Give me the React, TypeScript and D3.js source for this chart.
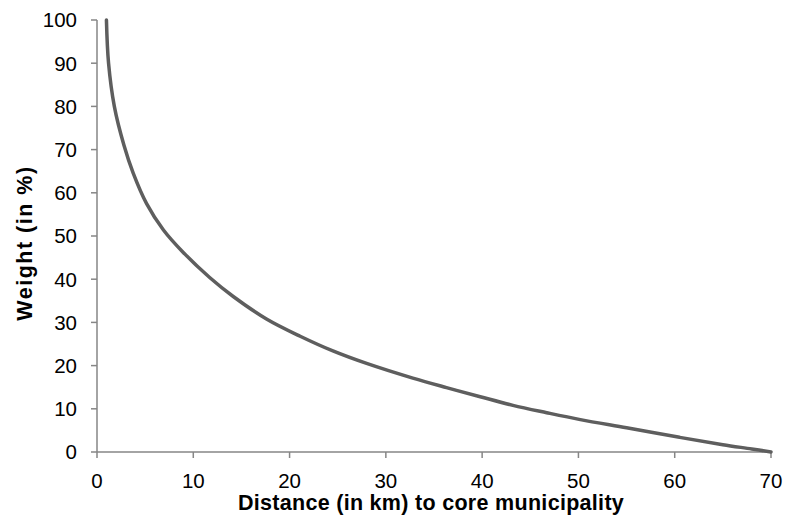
import React from "react";
import * as d3 from "d3";

const distance = [0.98, 1.2, 1.8, 2.8, 3.77, 5.15, 6.9, 8.96, 11.7, 14.15, 17.6, 21.1, 24.5, 28.0, 32.8, 36.3, 39.8, 43.2, 46.7, 50.2, 55.0, 60.5, 65.0, 68.0, 70.0];
const weight = [100, 90, 80, 71, 64.5, 57.5, 51.4, 46.2, 40.4, 36.0, 30.8, 26.8, 23.4, 20.5, 17.1, 14.9, 12.8, 10.8, 9.1, 7.5, 5.6, 3.4, 1.7, 0.7, 0];
const xTicks = [0, 10, 20, 30, 40, 50, 60, 70];
const yTicks = [0, 10, 20, 30, 40, 50, 60, 70, 80, 90, 100];

export default function App() {
  const W = 792, H = 526;
  const left = 97, right = 771, top = 20, bottom = 452;
  const x = d3.scaleLinear().domain([0, 70]).range([left, right]);
  const y = d3.scaleLinear().domain([0, 100]).range([bottom, top]);
  const pts: [number, number][] = distance.map((d, i) => [d, weight[i]]);
  const line = d3.line<[number, number]>().x(p => x(p[0])).y(p => y(p[1])).curve(d3.curveCatmullRom.alpha(0.5));
  const axisColor = "#868686";
  const font = "'Liberation Sans', Arial, sans-serif";
  return (
    <svg width={W} height={H} style={{ position: "absolute", left: 0, top: 0 }} fontFamily={font}>
      <rect width={W} height={H} fill="#fff" />
      <line x1={left} x2={left} y1={top} y2={bottom} stroke={axisColor} strokeWidth={1.5} />
      <line x1={left} x2={right} y1={bottom} y2={bottom} stroke={axisColor} strokeWidth={1.5} />
      {yTicks.map(t => (
        <g key={"y" + t}>
          <line x1={left - 6} x2={left} y1={y(t)} y2={y(t)} stroke={axisColor} strokeWidth={1.5} />
          <text x={left - 20} y={y(t)} dy="0.36em" textAnchor="end" fontSize={20.5} fill="#000">{t}</text>
        </g>
      ))}
      {xTicks.map(t => (
        <g key={"x" + t}>
          <line x1={x(t)} x2={x(t)} y1={bottom} y2={bottom + 6} stroke={axisColor} strokeWidth={1.5} />
          <text x={x(t)} y={488} textAnchor="middle" fontSize={20.5} fill="#000">{t}</text>
        </g>
      ))}
      <path d={line(pts) || ""} fill="none" stroke="#5e5e5e" strokeWidth={3.5} strokeLinecap="round" />
      <text x={431} y={510} textAnchor="middle" fontSize={21.5} fontWeight="bold" letterSpacing={0.3} fill="#000">Distance (in km) to core municipality</text>
      <text transform={`translate(32, 243) rotate(-90)`} textAnchor="middle" fontSize={21.5} fontWeight="bold" letterSpacing={1.5} fill="#000">Weight (in %)</text>
    </svg>
  );
}
